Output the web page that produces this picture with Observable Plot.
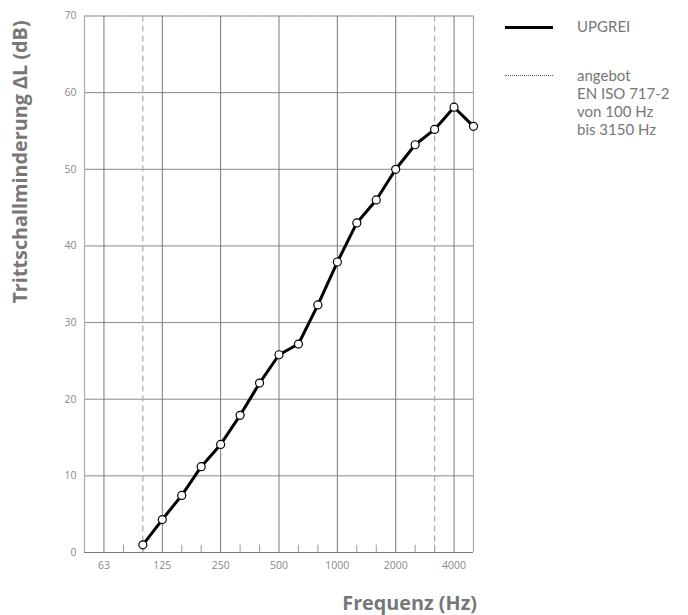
<!DOCTYPE html>
<html>
<head>
<meta charset="utf-8">
<script src="https://cdn.jsdelivr.net/npm/d3@7"></script>
<script src="https://cdn.jsdelivr.net/npm/@observablehq/plot@0.6"></script>
<style>
  body { margin: 0; background: #fff; }
  #wrap { position: relative; width: 688px; height: 615px; font-family: "Open Sans", sans-serif; }
  .ytitle { position: absolute; left: 19px; top: 162px; transform: translate(-50%, -50%) rotate(-90deg); white-space: nowrap; font-family: "Open Sans", sans-serif; font-weight: 700; font-size: 19.8px; color: #777; }
  .xtitle { position: absolute; right: 211px; top: 589px; white-space: nowrap; font-family: "Open Sans", sans-serif; font-weight: 700; font-size: 19.8px; color: #777; }
  .legend { position: absolute; left: 505px; font-family: Lato, sans-serif; font-size: 15px; color: #777; font-weight: 400; }
  .legend .sw { position: absolute; left: 0; width: 48px; }
  .legend .tx { position: absolute; left: 72px; white-space: nowrap; line-height: 18px; }
</style>
</head>
<body>
<div id="wrap">
  <div id="chart"></div>
  <div class="ytitle">Trittschallminderung ΔL (dB)</div>
  <div class="xtitle">Frequenz (Hz)</div>
  <div class="legend" style="top:27px">
    <div class="sw" style="top:-1.5px;border-top:3px solid #000"></div>
    <div class="tx" style="top:-10px">UPGREI</div>
  </div>
  <div class="legend" style="top:76px">
    <div class="sw" style="top:-1px;border-top:1.3px dotted #555"></div>
    <div class="tx" style="top:-10px">angebot<br>EN ISO 717-2<br>von 100 Hz<br>bis 3150 Hz</div>
  </div>
</div>
<script>
const bands = ["50","63","80","100","125","160","200","250","315","400","500","630","800","1000","1250","1600","2000","2500","3150","4000","5000"];
const octaveTicks = ["63","125","250","500","1000","2000","4000"];
const minorTicks = ["80","100","160","200","315","400","630","800","1250","1600","2500","3150"];
const rangeLimits = ["100","3150"];
const yTicks = [0,10,20,30,40,50,60,70];
const freqs = ["100","125","160","200","250","315","400","500","630","800","1000","1250","1600","2000","2500","3150","4000","5000"];
const values = [1.0,4.3,7.45,11.2,14.1,17.9,22.1,25.8,27.2,32.3,37.9,43.0,46.0,50.0,53.2,55.2,58.1,55.6];

const data = freqs.map((f, i) => ({f, v: values[i]}));

const chart = Plot.plot({
  width: 688,
  height: 615,
  marginLeft: 84,
  marginRight: 215,
  marginTop: 15.5,
  marginBottom: 63,
  style: {fontFamily: "'Open Sans', sans-serif", fontSize: "10px", color: "#888", background: "#fff"},
  x: {type: "point", domain: bands, padding: 0, round: false, axis: null},
  y: {domain: [0, 70], axis: null},
  marks: [
    // horizontal grid
    Plot.ruleY(yTicks, {stroke: "#888", strokeWidth: 1}),
    // minor ticks at bottom and top
    Plot.ruleX(minorTicks, {x: d => d, y1: 0, y2: 0.95, stroke: "#999", strokeWidth: 1}),
    Plot.ruleX(minorTicks, {x: d => d, y1: 69.8, y2: 70, stroke: "#ddd", strokeWidth: 1}),
    // frame sides
    Plot.ruleX(["50", "5000"], {stroke: "#aaa", strokeWidth: 1.2}),
    // octave grid
    Plot.ruleX(octaveTicks, {stroke: "#777", strokeWidth: 1}),
    // dashed limits
    Plot.ruleX(rangeLimits, {stroke: "#aaa", strokeWidth: 1.2, strokeDasharray: "6,4"}),
    // bottom axis line
    Plot.ruleY([0], {stroke: "#777", strokeWidth: 1.2}),
    // y tick labels
    Plot.text(yTicks, {x: () => "50", y: d => d, text: d => String(d), textAnchor: "end", dx: -8, fill: "#888", fontSize: 10.5}),
    // x tick labels
    Plot.text(octaveTicks, {x: d => d, y: () => 0, text: d => d, dy: 13, fill: "#888", fontSize: 10.5}),
    // data line
    Plot.line(data, {x: "f", y: "v", stroke: "#000", strokeWidth: 3, strokeLinejoin: "round"}),
    Plot.dot(data, {x: "f", y: "v", r: 4, fill: "#fff", stroke: "#000", strokeWidth: 1.2})
  ]
});
document.getElementById("chart").appendChild(chart);
</script>
</body>
</html>
